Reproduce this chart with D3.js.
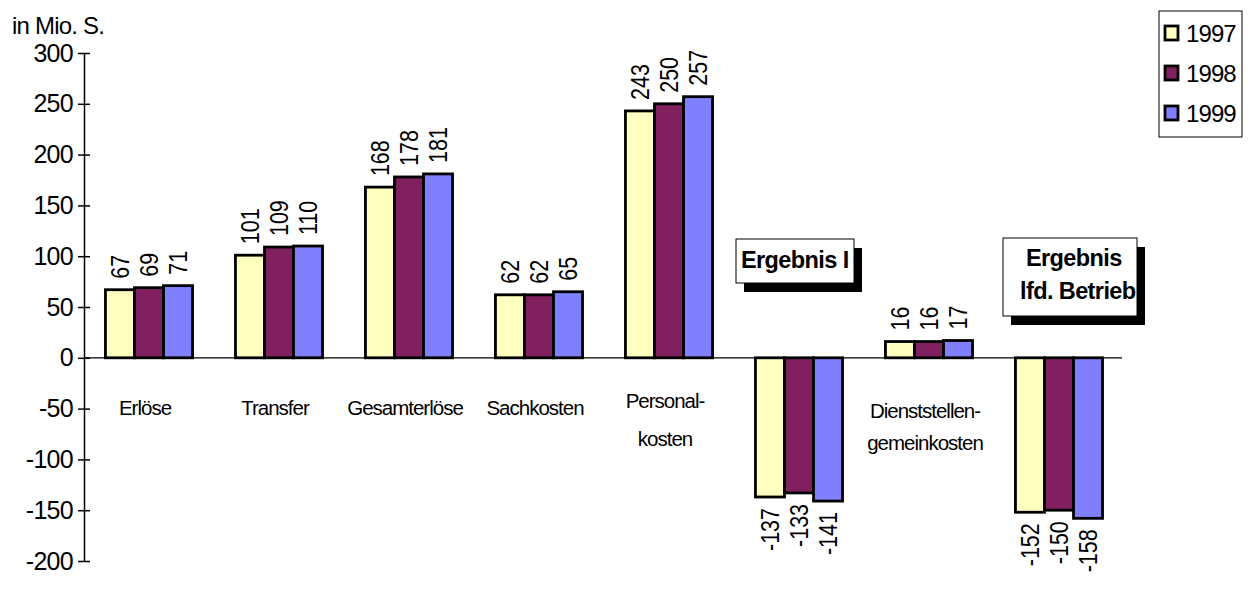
<!DOCTYPE html>
<html><head><meta charset="utf-8">
<script src="https://cdn.jsdelivr.net/npm/d3@7/dist/d3.min.js"></script>
<style>
body{margin:0;background:#fff;}
svg{display:block;font-family:"Liberation Sans",Arial,sans-serif;}
</style></head>
<body>
<svg id="c" width="1253" height="590"></svg>
<script>
const categories = ["Erlöse","Transfer","Gesamterlöse","Sachkosten","Personalkosten","Ergebnis I","Dienststellengemeinkosten","Ergebnis lfd. Betrieb"];
const categoryLabels = [["Erlöse"],["Transfer"],["Gesamterlöse"],["Sachkosten"],["Personal-","kosten"],[],["Dienststellen-","gemeinkosten"],[]];
const years = ["1997","1998","1999"];
const values1997 = [67,101,168,62,243,-137,16,-152];
const values1998 = [69,109,178,62,250,-133,16,-150];
const values1999 = [71,110,181,65,257,-141,17,-158];
const yTicks = [300,250,200,150,100,50,0,-50,-100,-150,-200];
const colors = ["#FFFFC0","#80205F","#8080FF"];
const series = [values1997, values1998, values1999];

const svg = d3.select("#c");
const y = d3.scaleLinear().domain([-200,300]).range([561,53]);
const x0 = d3.scaleBand().domain(categories).range([84,1124]).paddingInner(0.33).paddingOuter(0.165);
const x1 = d3.scaleBand().domain(years).range([0,x0.bandwidth()]);

// zero line
svg.append("line").attr("x1",84).attr("x2",1122).attr("y1",y(0)).attr("y2",y(0))
  .attr("stroke","#000").attr("stroke-width",1.2);

// axis
const axis = d3.axisLeft(y).tickValues(yTicks).tickFormat(d=>String(d)).tickSize(6).tickSizeOuter(0).tickPadding(6);
const g = svg.append("g").attr("transform","translate(84,0)").call(axis);
g.select(".domain").attr("stroke","#000").attr("stroke-width",1.5);
g.selectAll(".tick line").attr("x2",6).attr("x1",-6).attr("stroke-width",1.5);
g.selectAll(".tick text").attr("font-size",25).attr("letter-spacing","-0.7px")
  .attr("font-family","'Liberation Sans',Arial,sans-serif").attr("fill","#000").attr("x",-11);

svg.append("text").attr("x",12).attr("y",34).attr("font-size",24).attr("letter-spacing","-0.8px").text("in Mio. S.");

// bars
series.forEach((vals,si)=>{
  const grp = svg.append("g");
  grp.selectAll("rect").data(vals).join("rect")
    .attr("x",(d,i)=>x0(categories[i])+x1(years[si]))
    .attr("width",x1.bandwidth())
    .attr("y",d=>y(Math.max(0,d)))
    .attr("height",d=>Math.abs(y(d)-y(0)))
    .attr("fill",colors[si]).attr("stroke","#000").attr("stroke-width",2.8);
});
// value labels
series.forEach((vals,si)=>{
  svg.append("g").selectAll("text").data(vals).join("text")
    .attr("transform",(d,i)=>{
      const cx = x0(categories[i])+x1(years[si])+x1.bandwidth()/2;
      const yy = d>=0 ? y(d)-11 : y(d)+11;
      return `translate(${cx},${yy}) rotate(-90) scale(0.86,1)`;
    })
    .attr("dy","0.36em")
    .attr("text-anchor",d=>d>=0?"start":"end")
    .attr("font-size",25)
    .text(d=>d);
});

// category labels
categoryLabels.forEach((lines,i)=>{
  if(!lines.length) return;
  const cx = x0(categories[i])+x0.bandwidth()/2-4;
  let ys = lines.length===1 ? [415] : (i===4 ? [408,446] : [418,450]);
  lines.forEach((t,k)=>{
    svg.append("text").attr("x",cx).attr("y",ys[k]).attr("text-anchor","middle")
      .attr("font-size",20.5).attr("letter-spacing","-1px").text(t);
  });
});

// annotation boxes
function box(x,yy,w,h,lines,txs,tys,id){
  svg.append("rect").attr("x",x+8).attr("y",yy+9).attr("width",w).attr("height",h).attr("fill","#000");
  svg.append("rect").attr("x",x).attr("y",yy).attr("width",w).attr("height",h).attr("fill","#fff").attr("stroke","#000").attr("stroke-width",1);
  svg.append("clipPath").attr("id",id).append("rect").attr("x",x).attr("y",yy).attr("width",w-1).attr("height",h);
  const gg = svg.append("g").attr("clip-path",`url(#${id})`);
  lines.forEach((t,k)=>{
    gg.append("text").attr("x",txs[k]).attr("y",tys[k]).attr("text-anchor","start")
      .attr("font-size",23.5).attr("font-weight","bold").attr("letter-spacing","-0.6px").text(t);
  });
}
box(736,239,118,44,["Ergebnis I"],[741],[268],"c1");
box(1003,238,134,78,["Ergebnis","lfd. Betrieb"],[1026,1020],[266,299],"c2");

// legend
svg.append("rect").attr("x",1159).attr("y",11).attr("width",83).attr("height",126).attr("fill","#fff").attr("stroke","#000").attr("stroke-width",1);
const lg = svg.append("g").selectAll("g").data(years).join("g")
  .attr("transform",(d,i)=>`translate(1165,${26+i*40})`);
lg.append("rect").attr("width",13).attr("height",14).attr("fill",(d,i)=>colors[i]).attr("stroke","#000").attr("stroke-width",2.8);
lg.append("text").attr("x",21).attr("y",16).attr("font-size",24).attr("letter-spacing","-0.9px").text(d=>d);
</script>
</body></html>
